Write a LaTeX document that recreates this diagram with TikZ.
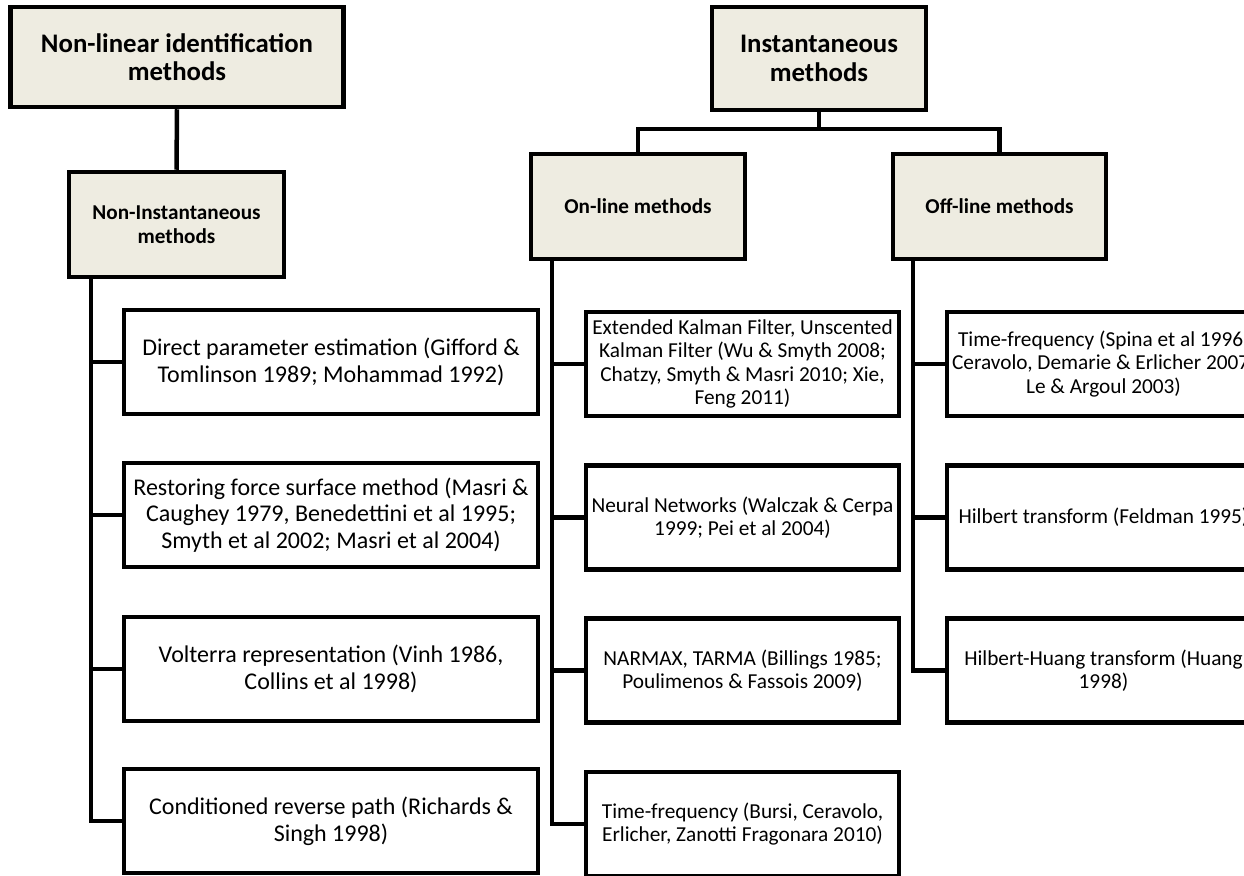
\documentclass[tikz,border=0pt]{standalone}
\usepackage{fontspec}
\setmainfont{Carlito}
\definecolor{hdrfill}{HTML}{EEECE1}
\begin{document}
\begin{tikzpicture}[x=1pt,y=-1pt,
  box/.style={draw=black, line width=4.5pt, line join=miter, inner sep=0pt, align=center},
  hdrbig/.style={box, fill=hdrfill, font={\bfseries\fontsize{26.8}{28.5}\selectfont}},
  hdrsmall/.style={box, fill=hdrfill, font={\bfseries\fontsize{21.2}{24}\selectfont}},
  leafL/.style={box, fill=white, minimum width=414pt, minimum height=104pt, font={\fontsize{24}{26.7}\selectfont}},
  leafM/.style={box, fill=white, minimum width=313pt, minimum height=104pt, font={\fontsize{21.3}{23.5}\selectfont}},
  conn/.style={draw=black, line width=4.5pt, line join=miter}]
\useasboundingbox (0,0) rectangle (1244,875);
\clip (0,0) rectangle (1244,875);
\fill[white] (0,0) rectangle (1244,875);

% headers
\node[hdrbig, minimum width=333pt, minimum height=100pt] (nl) at (177,57) {Non-linear identification\\methods};
\node[hdrsmall, minimum width=215pt, minimum height=105pt] (ni) at (176.5,224.5) {Non-Instantaneous\\methods};
\node[hdrbig, minimum width=214pt, minimum height=103pt] (inst) at (819,58.5) {Instantaneous\\methods};
\node[hdrsmall, minimum width=214pt, minimum height=105pt] (on) at (638,206.5) {On-line methods};
\node[hdrsmall, minimum width=213pt, minimum height=105pt] (off) at (999.5,206.5) {Off-line methods};

% left column
\node[leafL] (l1) at (331,362) {Direct parameter estimation (Gifford \&\\Tomlinson 1989; Mohammad 1992)};
\node[leafL] (l2) at (331,515) {Restoring force surface method (Masri \&\\Caughey 1979, Benedettini et al 1995;\\Smyth et al 2002; Masri et al 2004)};
\node[leafL] (l3) at (331,669) {Volterra representation (Vinh 1986,\\Collins et al 1998)};
\node[leafL] (l4) at (331,821) {Conditioned reverse path (Richards \&\\Singh 1998)};

% middle column
\node[leafM] (m1) at (742.5,364) {Extended Kalman Filter, Unscented\\Kalman Filter (Wu \& Smyth 2008;\\Chatzy, Smyth \& Masri 2010; Xie,\\Feng 2011)};
\node[leafM] (m2) at (742.5,517.5) {Neural Networks (Walczak \& Cerpa\\1999; Pei et al 2004)};
\node[leafM] (m3) at (742.5,670.5) {NARMAX, TARMA (Billings 1985;\\Poulimenos \& Fassois 2009)};
\node[leafM] (m4) at (742.5,824) {Time-frequency (Bursi, Ceravolo,\\Erlicher, Zanotti Fragonara 2010)};

% right column
\node[leafM] (r1) at (1103.5,364) {Time-frequency (Spina et al 1996;\\Ceravolo, Demarie \& Erlicher 2007;\\Le \& Argoul 2003)};
\node[leafM] (r2) at (1103.5,517.5) {Hilbert transform (Feldman 1995)};
\node[leafM] (r3) at (1103.5,670.5) {Hilbert-Huang transform (Huang\\1998)};

% spine coordinates
\coordinate (lsp) at (91,0);
\coordinate (msp) at (552,0);
\coordinate (rsp) at (913,0);
\coordinate (bar) at (819,129);

% connectors
\draw[conn] (nl.south) -- (ni.north);
\draw[conn] (inst.south) -- (bar);
\draw[conn] (on.north) |- (bar) -| (off.north);

\draw[conn] (ni.south -| lsp) |- (l4.west);
\draw[conn] (l1.west -| lsp) -- (l1.west);
\draw[conn] (l2.west -| lsp) -- (l2.west);
\draw[conn] (l3.west -| lsp) -- (l3.west);

\draw[conn] (on.south -| msp) |- (m4.west);
\draw[conn] (m1.west -| msp) -- (m1.west);
\draw[conn] (m2.west -| msp) -- (m2.west);
\draw[conn] (m3.west -| msp) -- (m3.west);

\draw[conn] (off.south -| rsp) |- (r3.west);
\draw[conn] (r1.west -| rsp) -- (r1.west);
\draw[conn] (r2.west -| rsp) -- (r2.west);
\end{tikzpicture}
\end{document}
